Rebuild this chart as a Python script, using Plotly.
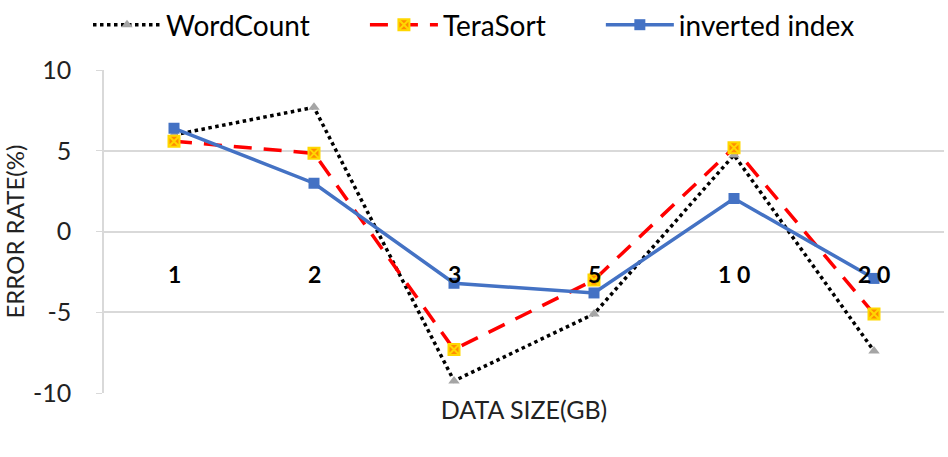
import plotly.graph_objects as go

# Data
data_sizes = ["1", "2", "3", "5", "10", "20"]
size_labels = ["1", "2", "3", "5", "1 0", "2 0"]
wordcount = [6.0, 7.7, -9.25, -5.1, 4.75, -7.4]
terasort = [5.6, 4.85, -7.3, -3.0, 5.2, -5.1]
inverted_index = [6.4, 3.0, -3.2, -3.8, 2.05, -2.9]
y_ticks = [-10, -5, 0, 5, 10]
y_tick_text = ["-10", "-5", "0", "5", "10"]

FONT = "Lato, Open Sans, sans-serif"
PAD = "\u00a0" * 7

fig = go.Figure()

fig.add_trace(
    go.Scatter(
        x=data_sizes,
        y=wordcount,
        name="WordCount" + PAD,
        mode="lines+markers",
        line=dict(color="black", width=3.5, dash="dot"),
        marker=dict(symbol="triangle-up", size=10, color="#A5A5A5"),
    )
)

fig.add_trace(
    go.Scatter(
        x=data_sizes,
        y=terasort,
        name="TeraSort" + PAD,
        mode="lines+markers",
        line=dict(color="#FF0000", width=3.5, dash="18px,12px"),
        marker=dict(
            symbol="square-x",
            size=11,
            color="#FF8C00",
            line=dict(color="#FFD700", width=2),
        ),
    )
)

fig.add_trace(
    go.Scatter(
        x=data_sizes,
        y=inverted_index,
        name="inverted index",
        mode="lines+markers",
        line=dict(color="#4472C4", width=3.5),
        marker=dict(symbol="square", size=11, color="#4472C4"),
    )
)

# Category labels sit just under the zero line, as in the Excel original
for i, lab in enumerate(size_labels):
    fig.add_annotation(
        x=i,
        y=0,
        text=f"<b>{lab}</b>",
        showarrow=False,
        yanchor="top",
        yshift=-26,
        font=dict(family=FONT, size=23, color="black"),
    )

fig.update_layout(
    width=948,
    height=457,
    margin=dict(l=104, r=4, t=64, b=64),
    plot_bgcolor="white",
    paper_bgcolor="white",
    font=dict(family=FONT, size=24, color="#222222"),
    showlegend=True,
    legend=dict(
        orientation="h",
        x=0.5,
        xref="container",
        xanchor="center",
        y=1.0,
        yref="container",
        yanchor="top",
        font=dict(size=28, color="black"),
        itemwidth=68,
    ),
    xaxis=dict(
        type="category",
        range=[-0.5, 5.5],
        showticklabels=False,
        showgrid=False,
        zeroline=False,
        title=dict(text="DATA SIZE(GB)", font=dict(size=25, color="#222222"), standoff=8),
    ),
    yaxis=dict(
        range=[-10, 10],
        tickvals=y_ticks,
        ticktext=y_tick_text,
        showgrid=True,
        gridcolor="#D9D9D9",
        gridwidth=1.5,
        zeroline=False,
        showline=True,
        linecolor="#D9D9D9",
        linewidth=1.5,
        ticks="outside",
        ticklen=6,
        tickcolor="#D9D9D9",
        ticklabelstandoff=20,
        tickfont=dict(size=25, color="#222222"),
        title=dict(text="ERROR RATE(%)", font=dict(size=24, color="#222222"), standoff=8),
    ),
)

# page has default body margin; drop it so the figure sits at the window corner
fig.write_html(
    "out.html",
    config={"displayModeBar": False},
    post_script="document.body.style.margin = '0';",
)
